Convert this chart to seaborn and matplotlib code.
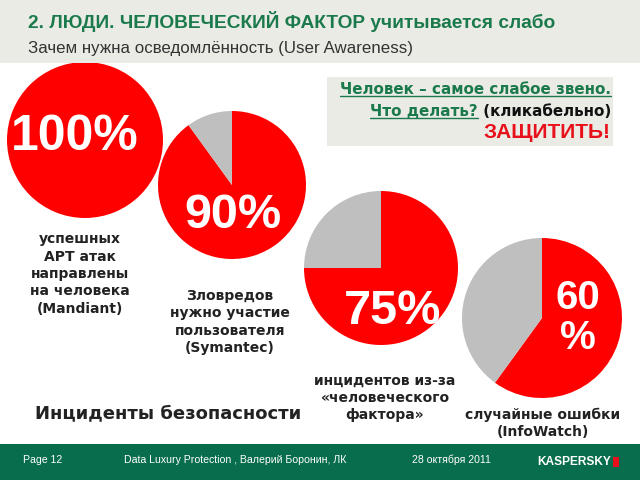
import matplotlib
matplotlib.use("Agg")
import matplotlib.pyplot as plt
import seaborn as sns
from matplotlib.lines import Line2D
from matplotlib.patches import Rectangle

# ---------------- data ----------------
shares = [100, 90, 75, 60]
pct_labels = ["100%", "90%", "75%", "60\n%"]
captions = [
    "успешных\nAPT атак\nнаправлены\nна человека\n(Mandiant)",
    "Зловредов\nнужно участие\nпользователя\n(Symantec)",
    "инцидентов из-за\n«человеческого\nфактора»",
    "случайные ошибки\n(InfoWatch)",
]
title = "2. ЛЮДИ. ЧЕЛОВЕЧЕСКИЙ ФАКТОР учитывается слабо"
subtitle = "Зачем нужна осведомлённость (User Awareness)"
box_line1 = "Человек – самое слабое звено."
box_line2a = "Что делать?"
box_line2b = " (кликабельно)"
box_line3 = "ЗАЩИТИТЬ!"
bottom_label = "Инциденты безопасности"
footer_page = "Page 12"
footer_author = "Data Luxury Protection , Валерий Боронин, ЛК"
footer_date = "28 октября 2011"
footer_logo = "KASPERSKY"

# ---------------- style ----------------
RED = "#ff0000"
GRAY = "#bfbfbf"
GREEN = "#1b7a4c"
FOOT_GREEN = "#076d4c"
HEADER_BG = "#ebebe5"
BOX_BG = "#ebebe5"

sns.set_theme(style="white")
plt.rcParams['font.family'] = ['DejaVu Sans']
ARIAL = 'Liberation Sans'

W, H = 640, 480
fig = plt.figure(figsize=(6.4, 4.8), dpi=100)
fig.patch.set_facecolor('white')


def fx(x):
    return x / W


def fy(y):
    return 1 - y / H


# header band
fig.add_artist(Rectangle((0, fy(63)), 1, 63 / H, transform=fig.transFigure,
                         facecolor=HEADER_BG, edgecolor='none', zorder=2))
fig.text(fx(28), fy(22), title, color=GREEN, fontsize=13.8, fontweight='bold',
         family=ARIAL, ha='left', va='center', zorder=3)
fig.text(fx(28), fy(48), subtitle, color='#333333', fontsize=12.2,
         family=ARIAL, ha='left', va='center', zorder=3)

# pies
pie_geom = [(85, 140, 78), (232, 185, 74), (381, 268, 77), (542, 318, 80)]
for share, (cx, cy, r) in zip(shares, pie_geom):
    ax = fig.add_axes([fx(cx - r), fy(cy + r), 2 * r / W, 2 * r / H])
    vals = [share, 100 - share]
    cols = [RED, GRAY]
    kv = [(v, c) for v, c in zip(vals, cols) if v > 0]
    ax.pie([v for v, _ in kv], colors=[c for _, c in kv], startangle=90,
           counterclock=False, radius=1, wedgeprops=dict(linewidth=0))
    ax.set_xlim(-1, 1)
    ax.set_ylim(-1, 1)
    ax.set_aspect('equal')
    ax.axis('off')

# big percentages
pct_pos = [(75, 137, 36), (233, 215, 35), (393, 311, 35), (578, 318, 29)]
for lab, (x, y, fs) in zip(pct_labels, pct_pos):
    fig.text(fx(x), fy(y), lab, color='white', fontsize=fs, fontweight='bold',
             family=ARIAL, ha='center', va='center', linespacing=1.05, zorder=5)

# captions
cap_pos = [(80, 274), (230, 322), (385, 398), (543, 423)]
for cap, (x, y) in zip(captions, cap_pos):
    fig.text(fx(x), fy(y), cap, color='#222222', fontsize=10, fontweight='bold',
             ha='center', va='center', linespacing=1.3, multialignment='center')

fig.text(fx(35), fy(413), bottom_label, color='#222222', fontsize=13,
         fontweight='bold', ha='left', va='center')

# box at top right
fig.add_artist(Rectangle((fx(327), fy(146)), (613 - 327) / W, (146 - 77) / H,
                         transform=fig.transFigure, facecolor=BOX_BG,
                         edgecolor='none', zorder=1))
BOX_FS = 10.9
t1 = fig.text(fx(611), fy(90), box_line1, color=GREEN, fontsize=BOX_FS,
              fontweight='bold', ha='right', va='center', zorder=3)
t2b = fig.text(fx(611), fy(112), box_line2b, color='#111111', fontsize=BOX_FS,
               fontweight='bold', ha='right', va='center', zorder=3)
fig.canvas.draw()
rend = fig.canvas.get_renderer()
bb2b = t2b.get_window_extent(rend)
t2a = fig.text(bb2b.x0 / W, fy(112), box_line2a, color=GREEN, fontsize=BOX_FS,
               fontweight='bold', ha='right', va='center', zorder=3)
fig.text(fx(611), fy(133), box_line3, color='#e8101a', fontsize=15,
         fontweight='bold', family=ARIAL, ha='right', va='center', zorder=3)
fig.canvas.draw()
for t in (t1, t2a):
    bb = t.get_window_extent(rend)
    yline = (bb.y0 + 1.5) / H
    fig.add_artist(Line2D([bb.x0 / W, bb.x1 / W], [yline, yline],
                          transform=fig.transFigure, color=GREEN, lw=1.0, zorder=3))

# footer
fig.add_artist(Rectangle((0, 0), 1, (480 - 444) / H, transform=fig.transFigure,
                         facecolor=FOOT_GREEN, edgecolor='none', zorder=2))
for txt, x in [(footer_page, 23), (footer_author, 124), (footer_date, 412)]:
    fig.text(fx(x), fy(460), txt, color='white', fontsize=7.6, family=ARIAL,
             ha='left', va='center', zorder=3)
fig.text(fx(537), fy(462), footer_logo, color='white', fontsize=8.6,
         fontweight='bold', family=ARIAL, ha='left', va='center', zorder=3)
fig.add_artist(Rectangle((fx(613), fy(467)), 6 / W, 10 / H, transform=fig.transFigure,
                         facecolor='#e8101a', edgecolor='none', zorder=3))

fig.savefig("out.png", dpi=100)
